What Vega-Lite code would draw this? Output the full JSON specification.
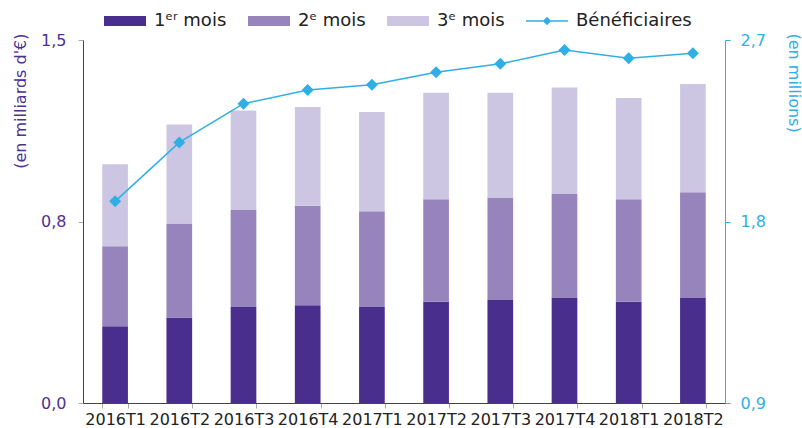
{
  "$schema": "https://vega.github.io/schema/vega-lite/v6.json",
  "width": 642,
  "height": 363,
  "autosize": {"type": "none"},
  "padding": {"left": 83, "top": 40, "right": 77, "bottom": 25},
  "background": "white",
  "config": {
    "view": {"stroke": null},
    "font": "DejaVu Sans",
    "axis": {"labelFont": "DejaVu Sans", "titleFont": "DejaVu Sans", "grid": false},
    "legend": {"labelFont": "DejaVu Sans"}
  },
  "datasets": {
    "montants": [
      {"trimestre": "2016T1", "mois": "1ᵉʳ mois", "montant": 0.317},
      {"trimestre": "2016T1", "mois": "2ᵉ mois", "montant": 0.331},
      {"trimestre": "2016T1", "mois": "3ᵉ mois", "montant": 0.339},
      {"trimestre": "2016T2", "mois": "1ᵉʳ mois", "montant": 0.353},
      {"trimestre": "2016T2", "mois": "2ᵉ mois", "montant": 0.389},
      {"trimestre": "2016T2", "mois": "3ᵉ mois", "montant": 0.409},
      {"trimestre": "2016T3", "mois": "1ᵉʳ mois", "montant": 0.397},
      {"trimestre": "2016T3", "mois": "2ᵉ mois", "montant": 0.401},
      {"trimestre": "2016T3", "mois": "3ᵉ mois", "montant": 0.411},
      {"trimestre": "2016T4", "mois": "1ᵉʳ mois", "montant": 0.404},
      {"trimestre": "2016T4", "mois": "2ᵉ mois", "montant": 0.411},
      {"trimestre": "2016T4", "mois": "3ᵉ mois", "montant": 0.408},
      {"trimestre": "2017T1", "mois": "1ᵉʳ mois", "montant": 0.397},
      {"trimestre": "2017T1", "mois": "2ᵉ mois", "montant": 0.395},
      {"trimestre": "2017T1", "mois": "3ᵉ mois", "montant": 0.410},
      {"trimestre": "2017T2", "mois": "1ᵉʳ mois", "montant": 0.418},
      {"trimestre": "2017T2", "mois": "2ᵉ mois", "montant": 0.424},
      {"trimestre": "2017T2", "mois": "3ᵉ mois", "montant": 0.440},
      {"trimestre": "2017T3", "mois": "1ᵉʳ mois", "montant": 0.426},
      {"trimestre": "2017T3", "mois": "2ᵉ mois", "montant": 0.423},
      {"trimestre": "2017T3", "mois": "3ᵉ mois", "montant": 0.433},
      {"trimestre": "2017T4", "mois": "1ᵉʳ mois", "montant": 0.434},
      {"trimestre": "2017T4", "mois": "2ᵉ mois", "montant": 0.430},
      {"trimestre": "2017T4", "mois": "3ᵉ mois", "montant": 0.440},
      {"trimestre": "2018T1", "mois": "1ᵉʳ mois", "montant": 0.418},
      {"trimestre": "2018T1", "mois": "2ᵉ mois", "montant": 0.424},
      {"trimestre": "2018T1", "mois": "3ᵉ mois", "montant": 0.418},
      {"trimestre": "2018T2", "mois": "1ᵉʳ mois", "montant": 0.434},
      {"trimestre": "2018T2", "mois": "2ᵉ mois", "montant": 0.437},
      {"trimestre": "2018T2", "mois": "3ᵉ mois", "montant": 0.447}
    ],
    "beneficiaires": [
      {"trimestre": "2016T1", "beneficiaires": 1.900},
      {"trimestre": "2016T2", "beneficiaires": 2.192},
      {"trimestre": "2016T3", "beneficiaires": 2.384},
      {"trimestre": "2016T4", "beneficiaires": 2.452},
      {"trimestre": "2017T1", "beneficiaires": 2.478},
      {"trimestre": "2017T2", "beneficiaires": 2.540},
      {"trimestre": "2017T3", "beneficiaires": 2.582},
      {"trimestre": "2017T4", "beneficiaires": 2.650},
      {"trimestre": "2018T1", "beneficiaires": 2.609},
      {"trimestre": "2018T2", "beneficiaires": 2.634}
    ]
  },
  "layer": [
    {
      "data": {"name": "montants"},
      "mark": {"type": "bar"},
      "encoding": {
        "x": {
          "field": "trimestre",
          "type": "nominal",
          "sort": null,
          "scale": {"paddingInner": 0.6, "paddingOuter": 0.3},
          "axis": {
            "title": null,
            "labelAngle": 0,
            "labelColor": "#222222",
            "labelFontSize": 16,
            "labelPadding": 3,
            "tickBand": "extent",
            "tickColor": "#aaaaaa",
            "tickSize": 5,
            "domainColor": "#444444"
          }
        },
        "y": {
          "field": "montant",
          "type": "quantitative",
          "stack": "zero",
          "scale": {"domain": [0, 1.5], "nice": false, "zero": true},
          "axis": {
            "values": [0, 0.75, 1.5],
            "labelExpr": "replace(format(datum.value, '.1f'), '.', ',')",
            "labelColor": "#4b3192",
            "labelFontSize": 16,
            "labelPadding": 12,
            "labelFlush": false,
            "labelOverlap": false,
            "tickColor": "#aaaaaa",
            "tickSize": 5,
            "domainColor": "#444444",
            "title": "(en milliards d'€)",
            "titleColor": "#4b3192",
            "titleFontSize": 16,
            "titleFontWeight": "normal",
            "titleAngle": -90,
            "titleX": -63,
            "titleY": -7,
            "titleAlign": "right",
            "titleBaseline": "middle"
          }
        },
        "color": {
          "field": "mois",
          "type": "nominal",
          "scale": {
            "domain": ["1ᵉʳ mois", "2ᵉ mois", "3ᵉ mois", "Bénéficiaires"],
            "range": ["#4a2e8e", "#9884bd", "#cdc6e2", "#2fafe4"]
          },
          "legend": {
            "orient": "none",
            "legendX": 20,
            "legendY": -41,
            "direction": "horizontal",
            "columns": 4,
            "title": null,
            "padding": 0,
            "symbolSize": 1764,
            "symbolStrokeWidth": 0,
            "labelFontSize": 18,
            "labelColor": "#222222",
            "labelOffset": 7,
            "labelLimit": 300,
            "columnPadding": 18,
            "encode": {
              "symbols": {
                "update": {
                  "shape": {"signal": "datum.value === 'Bénéficiaires' ? 'M-1,0H1M0,-0.15L0.15,0L0,0.15L-0.15,0Z' : 'M-1,-0.238H1V0.238H-1Z'"},
                  "stroke": {"signal": "datum.value === 'Bénéficiaires' ? '#2fafe4' : 'transparent'"},
                  "strokeWidth": {"value": 1.5}
                }
              }
            }
          }
        },
        "order": {"field": "mois", "sort": "ascending"}
      }
    },
    {
      "data": {"name": "beneficiaires"},
      "mark": {
        "type": "line",
        "color": "#2fafe4",
        "strokeWidth": 1.5,
        "point": {"shape": "diamond", "size": 144, "filled": true, "color": "#2fafe4", "opacity": 1}
      },
      "encoding": {
        "x": {"field": "trimestre", "type": "nominal", "sort": null},
        "y": {
          "field": "beneficiaires",
          "type": "quantitative",
          "scale": {"domain": [0.9, 2.7], "nice": false, "zero": false},
          "axis": {
            "orient": "right",
            "values": [0.9, 1.8, 2.7],
            "labelExpr": "replace(format(datum.value, '.1f'), '.', ',')",
            "labelColor": "#2fafe4",
            "labelFontSize": 16,
            "labelPadding": 10,
            "labelFlush": false,
            "labelOverlap": false,
            "tickColor": "#2fafe4",
            "tickSize": 5,
            "domainColor": "#2fafe4",
            "title": "(en millions)",
            "titleColor": "#2fafe4",
            "titleFontSize": 16,
            "titleFontWeight": "normal",
            "titleAngle": 90,
            "titleX": 68,
            "titleY": -7,
            "titleAlign": "left",
            "titleBaseline": "middle"
          }
        }
      }
    }
  ],
  "resolve": {"scale": {"y": "independent"}}
}
